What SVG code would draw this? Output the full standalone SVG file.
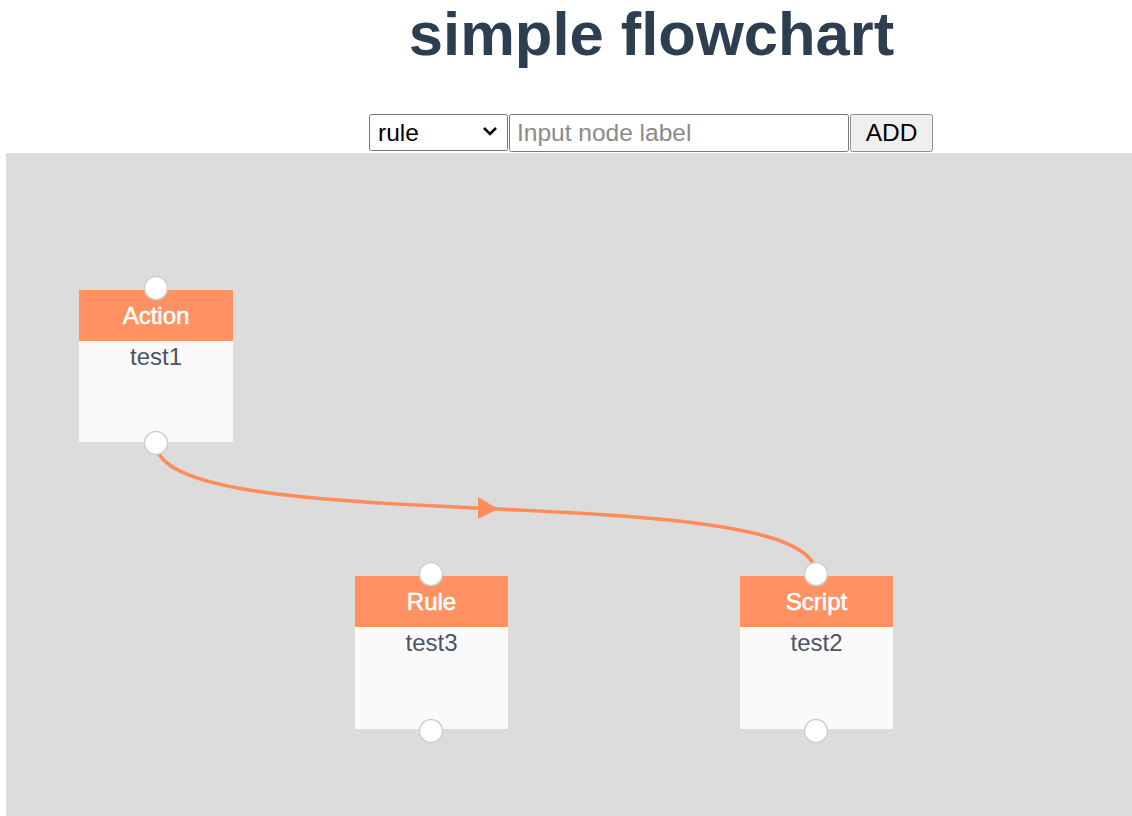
<svg xmlns="http://www.w3.org/2000/svg" width="1132" height="816" viewBox="0 0 1132 816">
<defs>
<style>
.title{font-family:"Liberation Sans",Arial,sans-serif;font-weight:bold;font-size:61.5px;fill:#2c3e50;text-anchor:middle}
.ctl{font-family:"Liberation Sans",Arial,sans-serif;font-size:24.5px}
.hdr{fill:#ff9163}
.body{fill:#fafafa}
.htxt{font-family:"Liberation Sans",Arial,sans-serif;font-size:24px;fill:#ffffff;stroke:#ffffff;stroke-width:0.6;text-anchor:middle}
.btxt{font-family:"Liberation Sans",Arial,sans-serif;font-size:24px;fill:#4b5563;text-anchor:middle}
.port{fill:#ffffff;stroke:#cfcfcf;stroke-width:1.5}
.edge{fill:none;stroke:#ff8c59;stroke-width:3.5}
</style>
</defs>
<rect x="0" y="0" width="1132" height="816" fill="#ffffff"/>
<text class="title" x="651.5" y="55">simple flowchart</text>
<g id="controls">
<rect x="369.5" y="114.5" width="138" height="36" rx="2" fill="#ffffff" stroke="#767676"/>
<text class="ctl" x="378" y="141" fill="#000000">rule</text>
<path d="M484,128 L490,134 L496,128" fill="none" stroke="#000" stroke-width="2.5"/>
<rect x="509.5" y="114.5" width="339" height="37" rx="2" fill="#ffffff" stroke="#767676"/>
<text class="ctl" x="517" y="141" fill="#8a8a8a">Input node label</text>
<rect x="850.5" y="114.5" width="82" height="37" rx="2" fill="#efefef" stroke="#8f8f8f"/>
<text class="ctl" x="891.5" y="141" fill="#000000" text-anchor="middle">ADD</text>
</g>
<rect x="6" y="153" width="1126" height="663" fill="#dcdcdc"/>
<g id="connectors">
<path class="edge" d="M156,443 C156,543 816,474 816,574"/>
<path d="M478,497 L498,509 L478,519 Z" fill="#ff8c59"/>
</g>
<g id="node-action">
<rect class="body" x="79" y="290" width="154" height="152"/>
<rect class="hdr" x="79" y="290" width="154" height="51"/>
<text class="htxt" x="156" y="324">Action</text>
<text class="btxt" x="156" y="365">test1</text>
<circle class="port" cx="156" cy="288" r="11.5"/>
<circle class="port" cx="156" cy="443" r="11.5"/>
</g>
<g id="node-rule">
<rect class="body" x="355" y="576" width="153" height="153"/>
<rect class="hdr" x="355" y="576" width="153" height="51"/>
<text class="htxt" x="431.5" y="610">Rule</text>
<text class="btxt" x="431.5" y="651">test3</text>
<circle class="port" cx="431" cy="574" r="11.5"/>
<circle class="port" cx="431" cy="731" r="11.5"/>
</g>
<g id="node-script">
<rect class="body" x="740" y="576" width="153" height="153"/>
<rect class="hdr" x="740" y="576" width="153" height="51"/>
<text class="htxt" x="816.5" y="610">Script</text>
<text class="btxt" x="816.5" y="651">test2</text>
<circle class="port" cx="816" cy="574" r="11.5"/>
<circle class="port" cx="816" cy="731" r="11.5"/>
</g>
</svg>
